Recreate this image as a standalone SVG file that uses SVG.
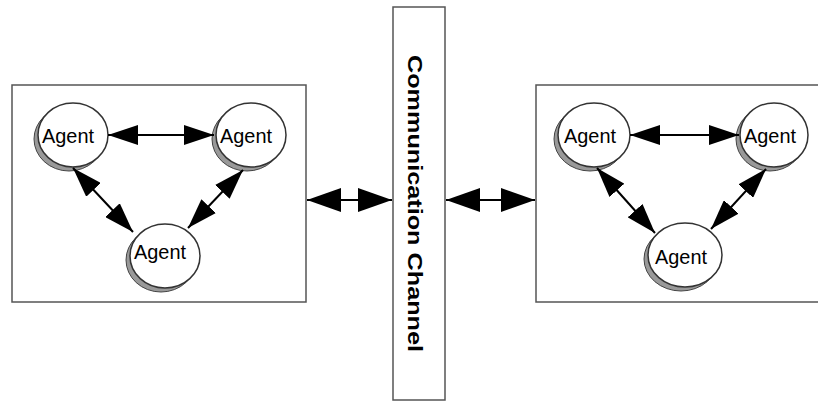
<svg xmlns="http://www.w3.org/2000/svg" width="818" height="403" viewBox="0 0 818 403">
  <style>
    .box { fill: #ffffff; stroke: #555555; stroke-width: 1.5; }
    .shadow { fill: #999999; stroke: #444444; stroke-width: 1; }
    .agent { fill: #ffffff; stroke: #333333; stroke-width: 1.5; }
    .label { font-family: "Liberation Sans", Arial, sans-serif; font-size: 20px; fill: #000000; text-anchor: middle; }
    .channel-label { font-family: "Liberation Sans", Arial, sans-serif; font-size: 21px; font-weight: bold; fill: #000000; }
    .link { stroke: #000000; stroke-width: 2; fill: none; marker-start: url(#head); marker-end: url(#head); }
    .bus { stroke: #000000; stroke-width: 2; fill: none; marker-start: url(#headL); marker-end: url(#headL); }
  </style>
  <defs>
    <marker id="head" markerUnits="userSpaceOnUse" markerWidth="30" markerHeight="20" refX="30" refY="10" orient="auto-start-reverse">
      <path d="M0,0 L30,10 L0,20 z" fill="#000000"/>
    </marker>
    <marker id="headL" markerUnits="userSpaceOnUse" markerWidth="34" markerHeight="24" refX="34" refY="12" orient="auto-start-reverse">
      <path d="M0,0 L34,12 L0,24 z" fill="#000000"/>
    </marker>
  </defs>

  <rect width="818" height="403" fill="#ffffff"/>

  <!-- containers -->
  <g id="left-system">
    <rect class="box" x="12" y="85" width="294" height="217"/>
  </g>
  <g id="right-system">
    <rect class="box" x="536" y="85" width="300" height="217"/>
  </g>
  <g id="channel">
    <rect class="box" x="393" y="7" width="52" height="393"/>
    <text class="channel-label" transform="translate(408,55) rotate(90)" x="0" y="0" textLength="297" lengthAdjust="spacingAndGlyphs">Communication Channel</text>
  </g>

  <!-- agents: shadow ellipse behind, white ellipse on top -->
  <g id="agent-l1">
    <ellipse class="shadow" cx="69" cy="139" rx="35" ry="32"/>
    <ellipse class="agent" cx="73" cy="135" rx="35" ry="32"/>
    <text class="label" x="68" y="143" textLength="52" lengthAdjust="spacingAndGlyphs">Agent</text>
  </g>
  <g id="agent-l2">
    <ellipse class="shadow" cx="247" cy="139" rx="35" ry="32"/>
    <ellipse class="agent" cx="251" cy="135" rx="35" ry="32"/>
    <text class="label" x="246" y="143" textLength="52" lengthAdjust="spacingAndGlyphs">Agent</text>
  </g>
  <g id="agent-l3">
    <ellipse class="shadow" cx="161" cy="260" rx="35" ry="32"/>
    <ellipse class="agent" cx="165" cy="256" rx="35" ry="32"/>
    <text class="label" x="160" y="259" textLength="52" lengthAdjust="spacingAndGlyphs">Agent</text>
  </g>
  <g id="agent-r1">
    <ellipse class="shadow" cx="590" cy="139" rx="36" ry="32"/>
    <ellipse class="agent" cx="594" cy="135" rx="36" ry="32"/>
    <text class="label" x="590" y="143" textLength="52" lengthAdjust="spacingAndGlyphs">Agent</text>
  </g>
  <g id="agent-r2">
    <ellipse class="shadow" cx="770" cy="139" rx="34" ry="32"/>
    <ellipse class="agent" cx="774" cy="135" rx="34" ry="32"/>
    <text class="label" x="770" y="143" textLength="52" lengthAdjust="spacingAndGlyphs">Agent</text>
  </g>
  <g id="agent-r3">
    <ellipse class="shadow" cx="681" cy="259" rx="37" ry="32"/>
    <ellipse class="agent" cx="685" cy="255" rx="37" ry="32"/>
    <text class="label" x="681" y="264" textLength="52" lengthAdjust="spacingAndGlyphs">Agent</text>
  </g>

  <!-- connectors -->
  <g id="connectors">
    <line class="link" x1="108" y1="135" x2="214" y2="135"/>
    <line class="link" x1="73" y1="168" x2="133" y2="232"/>
    <line class="link" x1="243" y1="170" x2="188" y2="228"/>
    <line class="link" x1="630" y1="135" x2="739" y2="135"/>
    <line class="link" x1="597" y1="168" x2="655" y2="233"/>
    <line class="link" x1="766" y1="169" x2="711" y2="229"/>
    <line class="bus" x1="307" y1="200" x2="392" y2="200"/>
    <line class="bus" x1="446" y1="200" x2="535" y2="200"/>
  </g>
</svg>
